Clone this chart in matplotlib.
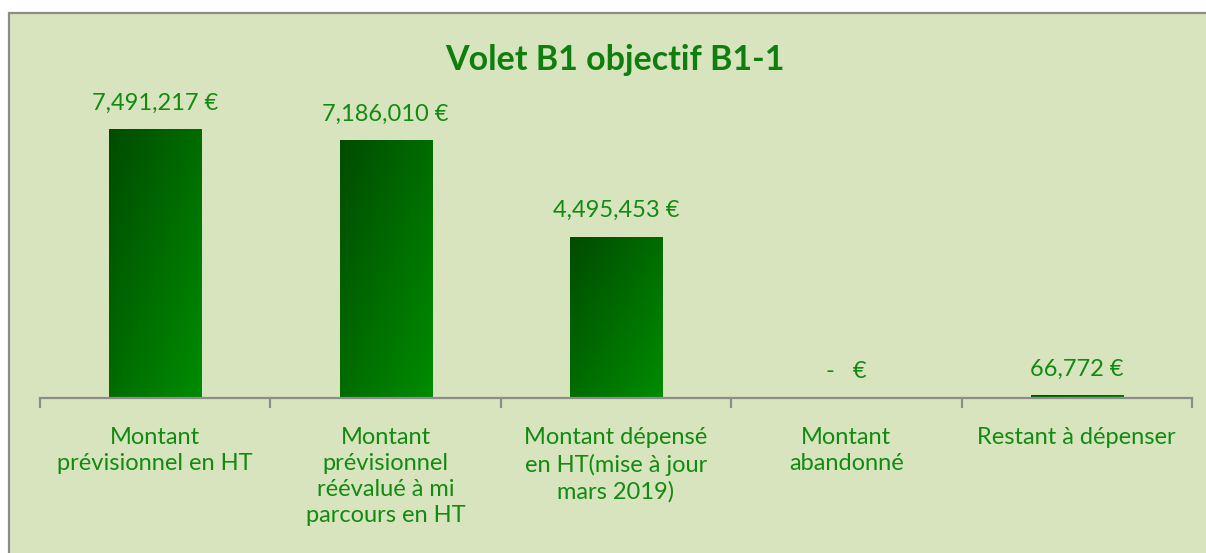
import matplotlib.pyplot as plt
import numpy as np
from matplotlib.colors import LinearSegmentedColormap
from matplotlib.patches import Rectangle

plt.rcParams['font.family'] = ['Lato', 'DejaVu Sans']

# data
categories = ["Montant\nprévisionnel en HT",
              "Montant\nprévisionnel\nréévalué à mi\nparcours en HT",
              "Montant dépensé\nen HT(mise à jour\nmars 2019)",
              "Montant\nabandonné",
              "Restant à dépenser"]
values = [7491217, 7186010, 4495453, 0, 66772]

green_txt = "#128A12"
title_col = "#0E7E0E"
bg = "#D8E4BD"

fig = plt.figure(figsize=(12.06, 5.53), dpi=100)
fig.patch.set_facecolor("white")
# chart frame
fig.patches.append(Rectangle((9/1206, -0.05), 1.2, (553-13)/553 + 0.05,
                             transform=fig.transFigure, facecolor=bg,
                             edgecolor="#8C8C8C", lw=1.6, zorder=-5))

ax = fig.add_axes([40/1206, 1-398/553, 1152/1206, 300/553])
ax.set_facecolor("none")
ax.set_zorder(2)

cmap = LinearSegmentedColormap.from_list("g", ["#004C00", "#008C00"])
n = 60
jj, ii = np.meshgrid(np.linspace(0, 1, n), np.linspace(0, 1, n))
grad = 0.5*jj + 0.5*(1-ii)
w = 0.40
x = np.arange(len(values))
for xi, v in zip(x, values):
    if v > 0:
        ax.imshow(grad, extent=[xi-w/2, xi+w/2, 0, v], origin="lower",
                  aspect="auto", cmap=cmap, vmin=0, vmax=1, zorder=2)
    lab = f"{v:,.0f} €" if v else "-   €"
    ax.annotate(lab, (xi, v), xytext=(0, 19), textcoords="offset points",
                ha="center", va="center", color=green_txt, fontsize=17)

ax.set_xlim(-0.5, len(values)-0.5)
ax.set_ylim(0, 8.38e6)
for s in ["left", "right", "top"]:
    ax.spines[s].set_visible(False)
ax.spines["bottom"].set_color("#8C8C8C")
ax.spines["bottom"].set_linewidth(1.6)
ax.set_yticks([])
ax.set_xticks(x)
ax.set_xticklabels(categories, color=green_txt, fontsize=17, linespacing=1.3,
                   va="top")
ax.set_xticks(np.arange(-0.5, len(values)), minor=True)
ax.tick_params(axis="x", which="major", length=0, pad=21)
ax.tick_params(axis="x", which="minor", length=7, width=1.6, color="#8C8C8C",
               direction="out")

fig.text(615/1206, 1-60/553, "Volet B1 objectif B1-1", ha="center", va="center",
         fontsize=24.5, fontweight="bold", color=title_col, zorder=3)

fig.savefig("out.png", dpi=100)
